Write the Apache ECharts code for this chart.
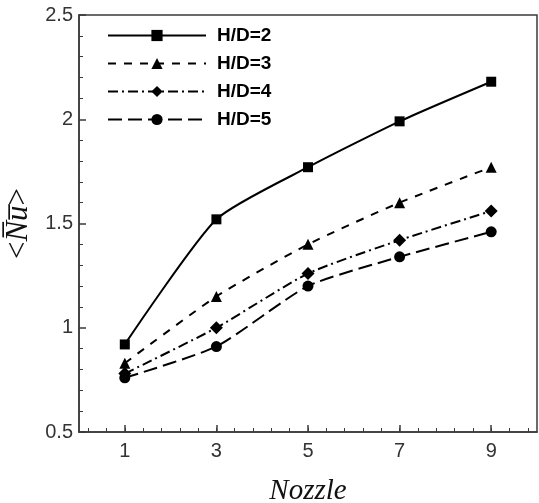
<!DOCTYPE html>
<html>
<head>
<meta charset="utf-8">
<script src="https://cdn.jsdelivr.net/npm/echarts@6/dist/echarts.min.js"></script>
<style>
html, body { margin: 0; padding: 0; background: #fff; }
#chart { width: 539px; height: 503px; }
</style>
</head>
<body>
<div id="chart"></div>
<script>
// nozzle positions on the x axis
var nozzles = [1, 3, 5, 7, 9]
var seriesNames = ['H/D=2', 'H/D=3', 'H/D=4', 'H/D=5']
// <Nu> values
var hd2 = [0.92, 1.52, 1.77, 1.99, 2.18]
var hd3 = [0.83, 1.15, 1.40, 1.60, 1.77]
var hd4 = [0.78, 1.00, 1.26, 1.42, 1.56]
var hd5 = [0.76, 0.91, 1.20, 1.34, 1.46]
var xTicks = [1, 3, 5, 7, 9]
var yTicks = [0.5, 1, 1.5, 2, 2.5]

var xMinor = []
for (var v = 0.2; v < 10; v += 0.4) xMinor.push(Math.round(v * 10) / 10)

function pairs (vals) {
  return nozzles.map(function (x, i) { return [x, vals[i]] })
}

var styles = [
  { symbol: 'rect', size: 10, type: 'solid' },
  { symbol: 'triangle', size: 11, type: [8, 8] },
  { symbol: 'diamond', size: 13, type: [10, 4, 2, 4] },
  { symbol: 'circle', size: 11, type: [14, 6] }
]
var values = [hd2, hd3, hd4, hd5]

var chart = echarts.init(document.getElementById('chart'))
var axisColor = '#3a3a3a'
var labelFont = { color: '#333', fontFamily: 'Liberation Sans', fontSize: 20 }

chart.setOption({
  animation: false,
  grid: {
    left: 79, right: 2, top: 15, bottom: 71,
    outerBoundsMode: 'none',
    containLabel: false,
    show: true, borderColor: axisColor, borderWidth: 1.5
  },
  legend: {
    orient: 'vertical',
    left: 102,
    top: 21,
    itemWidth: 98,
    itemHeight: 14,
    itemGap: 9,
    data: seriesNames,
    textStyle: { color: '#000', fontFamily: 'Liberation Sans', fontWeight: 'bold', fontSize: 19, padding: [0, 0, 0, 6] }
  },
  xAxis: [{
    type: 'value',
    min: 0,
    max: 10,
    interval: 1,
    name: 'Nozzle',
    nameLocation: 'middle',
    nameGap: 45,
    nameTextStyle: { fontFamily: 'Liberation Serif', fontStyle: 'italic', fontSize: 29, color: '#111' },
    axisLine: { show: true, lineStyle: { color: axisColor, width: 1.5 } },
    axisTick: { show: true, inside: true, length: 7, customValues: xTicks, lineStyle: { color: axisColor, width: 1.5 } },
    axisLabel: Object.assign({ margin: 9, customValues: xTicks }, labelFont),
    splitLine: { show: false }
  }, {
    type: 'value',
    min: 0,
    max: 10,
    position: 'bottom',
    axisLine: { show: false },
    axisTick: { show: true, inside: true, length: 4, customValues: xMinor, lineStyle: { color: axisColor, width: 1 } },
    axisLabel: { show: false },
    splitLine: { show: false }
  }],
  yAxis: {
    type: 'value',
    min: 0.5,
    max: 2.5,
    interval: 0.5,
    name: '{a|<}{b|N\u0305u\u0305}{a|>}',
    nameLocation: 'middle',
    nameRotate: 90,
    nameGap: 40,
    nameTextStyle: {
      rich: {
        a: { fontFamily: 'Liberation Serif', fontSize: 31, color: '#111' },
        b: { fontFamily: 'Liberation Serif', fontStyle: 'italic', fontSize: 31, color: '#111' }
      }
    },
    axisLine: { show: true, lineStyle: { color: axisColor, width: 1.5 } },
    axisTick: { show: true, inside: true, length: 7, lineStyle: { color: axisColor, width: 1.5 } },
    minorTick: { show: true, splitNumber: 5, length: 4, lineStyle: { color: axisColor, width: 1 } },
    axisLabel: Object.assign({
      margin: 6,
      customValues: yTicks,
      formatter: function (v) { return String(v) }
    }, labelFont),
    splitLine: { show: false },
    minorSplitLine: { show: false }
  },
  series: seriesNames.map(function (name, i) {
    return {
      name: name,
      type: 'line',
      xAxisIndex: 0,
      smooth: 0.2,
      data: pairs(values[i]),
      symbol: styles[i].symbol,
      symbolSize: styles[i].size,
      itemStyle: { color: '#000' },
      lineStyle: { color: '#000', width: 2, type: styles[i].type }
    }
  })
})
</script>
</body>
</html>
